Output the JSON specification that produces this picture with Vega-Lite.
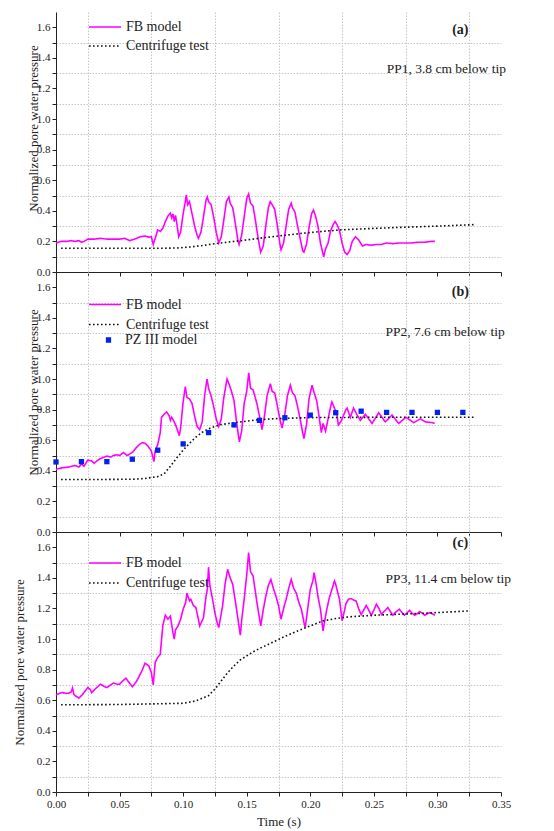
{
"$schema": "https://vega.github.io/schema/vega-lite/v6.json",
"padding": {"left": 13, "top": 12, "right": 5, "bottom": 2},
"bounds": "flush",
"spacing": 0,
"config": {
  "font": "Liberation Serif, serif",
  "view": {"stroke": null},
  "axis": {"labelFontSize": 11, "titleFontSize": 13, "titleFontWeight": "normal", "labelColor": "#222", "titleColor": "#222", "domainColor": "#222", "tickColor": "#222", "tickSize": 4, "labelPadding": 2, "gridDash": [1.5, 1.5], "gridWidth": 1},
  "legend": {"labelFontSize": 14, "labelColor": "#222", "padding": 0}
},
"datasets": {
  "a_lines": [
    {"t":0.000,"p":0.19,"s":"FB model"},{"t":0.004,"p":0.20,"s":"FB model"},{"t":0.008,"p":0.20,"s":"FB model"},{"t":0.012,"p":0.205,"s":"FB model"},{"t":0.015,"p":0.20,"s":"FB model"},{"t":0.018,"p":0.205,"s":"FB model"},{"t":0.020,"p":0.195,"s":"FB model"},{"t":0.022,"p":0.20,"s":"FB model"},{"t":0.025,"p":0.215,"s":"FB model"},{"t":0.030,"p":0.215,"s":"FB model"},{"t":0.035,"p":0.22,"s":"FB model"},{"t":0.040,"p":0.215,"s":"FB model"},{"t":0.045,"p":0.215,"s":"FB model"},{"t":0.050,"p":0.215,"s":"FB model"},{"t":0.054,"p":0.22,"s":"FB model"},{"t":0.058,"p":0.205,"s":"FB model"},{"t":0.062,"p":0.215,"s":"FB model"},{"t":0.066,"p":0.23,"s":"FB model"},{"t":0.070,"p":0.235,"s":"FB model"},{"t":0.073,"p":0.228,"s":"FB model"},{"t":0.075,"p":0.23,"s":"FB model"},{"t":0.0765,"p":0.18,"s":"FB model"},{"t":0.078,"p":0.22,"s":"FB model"},{"t":0.080,"p":0.275,"s":"FB model"},{"t":0.082,"p":0.265,"s":"FB model"},{"t":0.084,"p":0.285,"s":"FB model"},{"t":0.086,"p":0.33,"s":"FB model"},{"t":0.088,"p":0.365,"s":"FB model"},{"t":0.090,"p":0.385,"s":"FB model"},{"t":0.091,"p":0.355,"s":"FB model"},{"t":0.092,"p":0.38,"s":"FB model"},{"t":0.093,"p":0.33,"s":"FB model"},{"t":0.094,"p":0.37,"s":"FB model"},{"t":0.095,"p":0.32,"s":"FB model"},{"t":0.0965,"p":0.23,"s":"FB model"},{"t":0.098,"p":0.26,"s":"FB model"},{"t":0.100,"p":0.38,"s":"FB model"},{"t":0.1015,"p":0.45,"s":"FB model"},{"t":0.1025,"p":0.505,"s":"FB model"},{"t":0.1035,"p":0.44,"s":"FB model"},{"t":0.105,"p":0.46,"s":"FB model"},{"t":0.107,"p":0.38,"s":"FB model"},{"t":0.109,"p":0.30,"s":"FB model"},{"t":0.111,"p":0.24,"s":"FB model"},{"t":0.112,"p":0.22,"s":"FB model"},{"t":0.114,"p":0.26,"s":"FB model"},{"t":0.116,"p":0.36,"s":"FB model"},{"t":0.118,"p":0.47,"s":"FB model"},{"t":0.119,"p":0.49,"s":"FB model"},{"t":0.120,"p":0.46,"s":"FB model"},{"t":0.122,"p":0.44,"s":"FB model"},{"t":0.124,"p":0.36,"s":"FB model"},{"t":0.126,"p":0.26,"s":"FB model"},{"t":0.128,"p":0.19,"s":"FB model"},{"t":0.130,"p":0.23,"s":"FB model"},{"t":0.132,"p":0.34,"s":"FB model"},{"t":0.134,"p":0.46,"s":"FB model"},{"t":0.136,"p":0.49,"s":"FB model"},{"t":0.137,"p":0.45,"s":"FB model"},{"t":0.139,"p":0.42,"s":"FB model"},{"t":0.141,"p":0.32,"s":"FB model"},{"t":0.143,"p":0.21,"s":"FB model"},{"t":0.144,"p":0.18,"s":"FB model"},{"t":0.146,"p":0.24,"s":"FB model"},{"t":0.148,"p":0.36,"s":"FB model"},{"t":0.150,"p":0.48,"s":"FB model"},{"t":0.1515,"p":0.51,"s":"FB model"},{"t":0.153,"p":0.45,"s":"FB model"},{"t":0.155,"p":0.43,"s":"FB model"},{"t":0.157,"p":0.33,"s":"FB model"},{"t":0.159,"p":0.22,"s":"FB model"},{"t":0.161,"p":0.13,"s":"FB model"},{"t":0.163,"p":0.17,"s":"FB model"},{"t":0.165,"p":0.30,"s":"FB model"},{"t":0.167,"p":0.42,"s":"FB model"},{"t":0.1685,"p":0.46,"s":"FB model"},{"t":0.170,"p":0.44,"s":"FB model"},{"t":0.172,"p":0.41,"s":"FB model"},{"t":0.174,"p":0.31,"s":"FB model"},{"t":0.176,"p":0.19,"s":"FB model"},{"t":0.177,"p":0.145,"s":"FB model"},{"t":0.179,"p":0.19,"s":"FB model"},{"t":0.181,"p":0.30,"s":"FB model"},{"t":0.183,"p":0.41,"s":"FB model"},{"t":0.185,"p":0.45,"s":"FB model"},{"t":0.186,"p":0.42,"s":"FB model"},{"t":0.188,"p":0.39,"s":"FB model"},{"t":0.190,"p":0.30,"s":"FB model"},{"t":0.192,"p":0.22,"s":"FB model"},{"t":0.194,"p":0.14,"s":"FB model"},{"t":0.195,"p":0.13,"s":"FB model"},{"t":0.197,"p":0.18,"s":"FB model"},{"t":0.199,"p":0.29,"s":"FB model"},{"t":0.201,"p":0.38,"s":"FB model"},{"t":0.2025,"p":0.405,"s":"FB model"},{"t":0.204,"p":0.37,"s":"FB model"},{"t":0.206,"p":0.30,"s":"FB model"},{"t":0.208,"p":0.19,"s":"FB model"},{"t":0.2105,"p":0.10,"s":"FB model"},{"t":0.212,"p":0.15,"s":"FB model"},{"t":0.214,"p":0.19,"s":"FB model"},{"t":0.216,"p":0.27,"s":"FB model"},{"t":0.218,"p":0.31,"s":"FB model"},{"t":0.2195,"p":0.33,"s":"FB model"},{"t":0.221,"p":0.31,"s":"FB model"},{"t":0.223,"p":0.27,"s":"FB model"},{"t":0.225,"p":0.19,"s":"FB model"},{"t":0.227,"p":0.13,"s":"FB model"},{"t":0.229,"p":0.115,"s":"FB model"},{"t":0.231,"p":0.14,"s":"FB model"},{"t":0.233,"p":0.20,"s":"FB model"},{"t":0.2355,"p":0.23,"s":"FB model"},{"t":0.238,"p":0.21,"s":"FB model"},{"t":0.241,"p":0.17,"s":"FB model"},{"t":0.244,"p":0.18,"s":"FB model"},{"t":0.248,"p":0.175,"s":"FB model"},{"t":0.252,"p":0.18,"s":"FB model"},{"t":0.256,"p":0.18,"s":"FB model"},{"t":0.260,"p":0.19,"s":"FB model"},{"t":0.265,"p":0.185,"s":"FB model"},{"t":0.270,"p":0.19,"s":"FB model"},{"t":0.275,"p":0.19,"s":"FB model"},{"t":0.280,"p":0.19,"s":"FB model"},{"t":0.285,"p":0.195,"s":"FB model"},{"t":0.290,"p":0.195,"s":"FB model"},{"t":0.295,"p":0.20,"s":"FB model"},{"t":0.298,"p":0.20,"s":"FB model"},
    {"t":0.004,"p":0.155,"s":"Centrifuge test"},{"t":0.04,"p":0.155,"s":"Centrifuge test"},{"t":0.08,"p":0.155,"s":"Centrifuge test"},{"t":0.095,"p":0.157,"s":"Centrifuge test"},{"t":0.105,"p":0.163,"s":"Centrifuge test"},{"t":0.115,"p":0.173,"s":"Centrifuge test"},{"t":0.125,"p":0.185,"s":"Centrifuge test"},{"t":0.137,"p":0.197,"s":"Centrifuge test"},{"t":0.15,"p":0.21,"s":"Centrifuge test"},{"t":0.165,"p":0.226,"s":"Centrifuge test"},{"t":0.18,"p":0.24,"s":"Centrifuge test"},{"t":0.195,"p":0.254,"s":"Centrifuge test"},{"t":0.21,"p":0.266,"s":"Centrifuge test"},{"t":0.225,"p":0.276,"s":"Centrifuge test"},{"t":0.25,"p":0.285,"s":"Centrifuge test"},{"t":0.275,"p":0.293,"s":"Centrifuge test"},{"t":0.3,"p":0.30,"s":"Centrifuge test"},{"t":0.33,"p":0.31,"s":"Centrifuge test"}
  ],
  "b_lines": [
    {"t":0.000,"p":0.41,"s":"FB model"},{"t":0.005,"p":0.42,"s":"FB model"},{"t":0.010,"p":0.425,"s":"FB model"},{"t":0.015,"p":0.435,"s":"FB model"},{"t":0.018,"p":0.425,"s":"FB model"},{"t":0.020,"p":0.445,"s":"FB model"},{"t":0.022,"p":0.43,"s":"FB model"},{"t":0.025,"p":0.47,"s":"FB model"},{"t":0.028,"p":0.465,"s":"FB model"},{"t":0.030,"p":0.45,"s":"FB model"},{"t":0.033,"p":0.47,"s":"FB model"},{"t":0.035,"p":0.48,"s":"FB model"},{"t":0.038,"p":0.49,"s":"FB model"},{"t":0.040,"p":0.496,"s":"FB model"},{"t":0.043,"p":0.49,"s":"FB model"},{"t":0.045,"p":0.50,"s":"FB model"},{"t":0.048,"p":0.505,"s":"FB model"},{"t":0.050,"p":0.50,"s":"FB model"},{"t":0.053,"p":0.52,"s":"FB model"},{"t":0.056,"p":0.50,"s":"FB model"},{"t":0.060,"p":0.52,"s":"FB model"},{"t":0.063,"p":0.55,"s":"FB model"},{"t":0.066,"p":0.575,"s":"FB model"},{"t":0.068,"p":0.585,"s":"FB model"},{"t":0.070,"p":0.58,"s":"FB model"},{"t":0.072,"p":0.565,"s":"FB model"},{"t":0.075,"p":0.53,"s":"FB model"},{"t":0.077,"p":0.46,"s":"FB model"},{"t":0.078,"p":0.53,"s":"FB model"},{"t":0.080,"p":0.57,"s":"FB model"},{"t":0.082,"p":0.65,"s":"FB model"},{"t":0.083,"p":0.75,"s":"FB model"},{"t":0.085,"p":0.77,"s":"FB model"},{"t":0.087,"p":0.785,"s":"FB model"},{"t":0.089,"p":0.76,"s":"FB model"},{"t":0.090,"p":0.73,"s":"FB model"},{"t":0.091,"p":0.75,"s":"FB model"},{"t":0.093,"p":0.72,"s":"FB model"},{"t":0.095,"p":0.68,"s":"FB model"},{"t":0.097,"p":0.63,"s":"FB model"},{"t":0.098,"p":0.68,"s":"FB model"},{"t":0.100,"p":0.85,"s":"FB model"},{"t":0.1017,"p":0.95,"s":"FB model"},{"t":0.103,"p":0.88,"s":"FB model"},{"t":0.105,"p":0.87,"s":"FB model"},{"t":0.107,"p":0.84,"s":"FB model"},{"t":0.109,"p":0.76,"s":"FB model"},{"t":0.111,"p":0.69,"s":"FB model"},{"t":0.113,"p":0.67,"s":"FB model"},{"t":0.115,"p":0.72,"s":"FB model"},{"t":0.117,"p":0.90,"s":"FB model"},{"t":0.1188,"p":1.00,"s":"FB model"},{"t":0.120,"p":0.94,"s":"FB model"},{"t":0.122,"p":0.89,"s":"FB model"},{"t":0.124,"p":0.82,"s":"FB model"},{"t":0.126,"p":0.74,"s":"FB model"},{"t":0.128,"p":0.69,"s":"FB model"},{"t":0.130,"p":0.74,"s":"FB model"},{"t":0.132,"p":0.88,"s":"FB model"},{"t":0.1345,"p":1.00,"s":"FB model"},{"t":0.136,"p":0.97,"s":"FB model"},{"t":0.138,"p":0.92,"s":"FB model"},{"t":0.140,"p":0.86,"s":"FB model"},{"t":0.142,"p":0.72,"s":"FB model"},{"t":0.1442,"p":0.59,"s":"FB model"},{"t":0.146,"p":0.66,"s":"FB model"},{"t":0.148,"p":0.84,"s":"FB model"},{"t":0.150,"p":0.92,"s":"FB model"},{"t":0.1516,"p":1.04,"s":"FB model"},{"t":0.153,"p":0.94,"s":"FB model"},{"t":0.155,"p":0.93,"s":"FB model"},{"t":0.158,"p":0.84,"s":"FB model"},{"t":0.160,"p":0.76,"s":"FB model"},{"t":0.162,"p":0.67,"s":"FB model"},{"t":0.164,"p":0.76,"s":"FB model"},{"t":0.166,"p":0.89,"s":"FB model"},{"t":0.1686,"p":0.97,"s":"FB model"},{"t":0.170,"p":0.92,"s":"FB model"},{"t":0.172,"p":0.91,"s":"FB model"},{"t":0.174,"p":0.83,"s":"FB model"},{"t":0.176,"p":0.74,"s":"FB model"},{"t":0.1778,"p":0.68,"s":"FB model"},{"t":0.180,"p":0.77,"s":"FB model"},{"t":0.182,"p":0.89,"s":"FB model"},{"t":0.1843,"p":0.96,"s":"FB model"},{"t":0.186,"p":0.91,"s":"FB model"},{"t":0.188,"p":0.89,"s":"FB model"},{"t":0.190,"p":0.82,"s":"FB model"},{"t":0.192,"p":0.74,"s":"FB model"},{"t":0.194,"p":0.65,"s":"FB model"},{"t":0.195,"p":0.61,"s":"FB model"},{"t":0.197,"p":0.70,"s":"FB model"},{"t":0.199,"p":0.87,"s":"FB model"},{"t":0.2014,"p":0.96,"s":"FB model"},{"t":0.203,"p":0.91,"s":"FB model"},{"t":0.205,"p":0.86,"s":"FB model"},{"t":0.207,"p":0.75,"s":"FB model"},{"t":0.2087,"p":0.65,"s":"FB model"},{"t":0.210,"p":0.71,"s":"FB model"},{"t":0.212,"p":0.66,"s":"FB model"},{"t":0.214,"p":0.74,"s":"FB model"},{"t":0.216,"p":0.82,"s":"FB model"},{"t":0.217,"p":0.85,"s":"FB model"},{"t":0.219,"p":0.81,"s":"FB model"},{"t":0.221,"p":0.77,"s":"FB model"},{"t":0.222,"p":0.70,"s":"FB model"},{"t":0.224,"p":0.72,"s":"FB model"},{"t":0.226,"p":0.76,"s":"FB model"},{"t":0.228,"p":0.80,"s":"FB model"},{"t":0.229,"p":0.81,"s":"FB model"},{"t":0.2315,"p":0.75,"s":"FB model"},{"t":0.234,"p":0.81,"s":"FB model"},{"t":0.2365,"p":0.77,"s":"FB model"},{"t":0.2394,"p":0.73,"s":"FB model"},{"t":0.2433,"p":0.77,"s":"FB model"},{"t":0.2486,"p":0.71,"s":"FB model"},{"t":0.2538,"p":0.78,"s":"FB model"},{"t":0.259,"p":0.72,"s":"FB model"},{"t":0.2643,"p":0.765,"s":"FB model"},{"t":0.2695,"p":0.71,"s":"FB model"},{"t":0.2753,"p":0.75,"s":"FB model"},{"t":0.2813,"p":0.715,"s":"FB model"},{"t":0.2866,"p":0.74,"s":"FB model"},{"t":0.2905,"p":0.72,"s":"FB model"},{"t":0.2957,"p":0.715,"s":"FB model"},{"t":0.2978,"p":0.71,"s":"FB model"},
    {"t":0.004,"p":0.343,"s":"Centrifuge test"},{"t":0.03,"p":0.343,"s":"Centrifuge test"},{"t":0.06,"p":0.345,"s":"Centrifuge test"},{"t":0.07,"p":0.35,"s":"Centrifuge test"},{"t":0.08,"p":0.362,"s":"Centrifuge test"},{"t":0.085,"p":0.38,"s":"Centrifuge test"},{"t":0.09,"p":0.43,"s":"Centrifuge test"},{"t":0.095,"p":0.485,"s":"Centrifuge test"},{"t":0.1,"p":0.535,"s":"Centrifuge test"},{"t":0.105,"p":0.58,"s":"Centrifuge test"},{"t":0.11,"p":0.62,"s":"Centrifuge test"},{"t":0.115,"p":0.652,"s":"Centrifuge test"},{"t":0.12,"p":0.675,"s":"Centrifuge test"},{"t":0.125,"p":0.69,"s":"Centrifuge test"},{"t":0.13,"p":0.703,"s":"Centrifuge test"},{"t":0.14,"p":0.714,"s":"Centrifuge test"},{"t":0.15,"p":0.725,"s":"Centrifuge test"},{"t":0.16,"p":0.735,"s":"Centrifuge test"},{"t":0.175,"p":0.742,"s":"Centrifuge test"},{"t":0.2,"p":0.748,"s":"Centrifuge test"},{"t":0.25,"p":0.75,"s":"Centrifuge test"},{"t":0.3,"p":0.75,"s":"Centrifuge test"},{"t":0.33,"p":0.75,"s":"Centrifuge test"}
  ],
  "b_pz": [
    {"t":0.00,"p":0.458,"s":"PZ III model"},{"t":0.02,"p":0.46,"s":"PZ III model"},{"t":0.04,"p":0.46,"s":"PZ III model"},{"t":0.06,"p":0.476,"s":"PZ III model"},{"t":0.08,"p":0.535,"s":"PZ III model"},{"t":0.10,"p":0.576,"s":"PZ III model"},{"t":0.12,"p":0.65,"s":"PZ III model"},{"t":0.14,"p":0.70,"s":"PZ III model"},{"t":0.16,"p":0.73,"s":"PZ III model"},{"t":0.18,"p":0.747,"s":"PZ III model"},{"t":0.20,"p":0.764,"s":"PZ III model"},{"t":0.22,"p":0.78,"s":"PZ III model"},{"t":0.24,"p":0.79,"s":"PZ III model"},{"t":0.26,"p":0.782,"s":"PZ III model"},{"t":0.28,"p":0.782,"s":"PZ III model"},{"t":0.30,"p":0.782,"s":"PZ III model"},{"t":0.32,"p":0.782,"s":"PZ III model"}
  ],
  "c_lines": [
    {"t":0.000,"p":0.636,"s":"FB model"},{"t":0.003,"p":0.645,"s":"FB model"},{"t":0.005,"p":0.65,"s":"FB model"},{"t":0.008,"p":0.645,"s":"FB model"},{"t":0.010,"p":0.646,"s":"FB model"},{"t":0.012,"p":0.655,"s":"FB model"},{"t":0.013,"p":0.68,"s":"FB model"},{"t":0.014,"p":0.64,"s":"FB model"},{"t":0.015,"p":0.63,"s":"FB model"},{"t":0.017,"p":0.62,"s":"FB model"},{"t":0.018,"p":0.614,"s":"FB model"},{"t":0.020,"p":0.63,"s":"FB model"},{"t":0.022,"p":0.65,"s":"FB model"},{"t":0.025,"p":0.683,"s":"FB model"},{"t":0.027,"p":0.67,"s":"FB model"},{"t":0.028,"p":0.65,"s":"FB model"},{"t":0.031,"p":0.675,"s":"FB model"},{"t":0.035,"p":0.705,"s":"FB model"},{"t":0.038,"p":0.69,"s":"FB model"},{"t":0.040,"p":0.683,"s":"FB model"},{"t":0.043,"p":0.70,"s":"FB model"},{"t":0.045,"p":0.712,"s":"FB model"},{"t":0.048,"p":0.705,"s":"FB model"},{"t":0.050,"p":0.705,"s":"FB model"},{"t":0.053,"p":0.73,"s":"FB model"},{"t":0.055,"p":0.744,"s":"FB model"},{"t":0.058,"p":0.71,"s":"FB model"},{"t":0.060,"p":0.688,"s":"FB model"},{"t":0.063,"p":0.72,"s":"FB model"},{"t":0.065,"p":0.749,"s":"FB model"},{"t":0.068,"p":0.80,"s":"FB model"},{"t":0.070,"p":0.842,"s":"FB model"},{"t":0.073,"p":0.825,"s":"FB model"},{"t":0.075,"p":0.78,"s":"FB model"},{"t":0.0765,"p":0.70,"s":"FB model"},{"t":0.078,"p":0.847,"s":"FB model"},{"t":0.080,"p":0.88,"s":"FB model"},{"t":0.082,"p":0.90,"s":"FB model"},{"t":0.084,"p":1.086,"s":"FB model"},{"t":0.086,"p":1.156,"s":"FB model"},{"t":0.088,"p":1.13,"s":"FB model"},{"t":0.090,"p":1.15,"s":"FB model"},{"t":0.092,"p":1.04,"s":"FB model"},{"t":0.093,"p":1.00,"s":"FB model"},{"t":0.094,"p":1.06,"s":"FB model"},{"t":0.096,"p":1.086,"s":"FB model"},{"t":0.098,"p":1.13,"s":"FB model"},{"t":0.100,"p":1.195,"s":"FB model"},{"t":0.102,"p":1.24,"s":"FB model"},{"t":0.103,"p":1.30,"s":"FB model"},{"t":0.105,"p":1.25,"s":"FB model"},{"t":0.106,"p":1.26,"s":"FB model"},{"t":0.108,"p":1.22,"s":"FB model"},{"t":0.110,"p":1.206,"s":"FB model"},{"t":0.112,"p":1.13,"s":"FB model"},{"t":0.113,"p":1.086,"s":"FB model"},{"t":0.115,"p":1.12,"s":"FB model"},{"t":0.116,"p":1.14,"s":"FB model"},{"t":0.118,"p":1.28,"s":"FB model"},{"t":0.119,"p":1.325,"s":"FB model"},{"t":0.120,"p":1.47,"s":"FB model"},{"t":0.121,"p":1.35,"s":"FB model"},{"t":0.122,"p":1.31,"s":"FB model"},{"t":0.124,"p":1.22,"s":"FB model"},{"t":0.125,"p":1.17,"s":"FB model"},{"t":0.127,"p":1.10,"s":"FB model"},{"t":0.128,"p":1.075,"s":"FB model"},{"t":0.129,"p":1.12,"s":"FB model"},{"t":0.131,"p":1.216,"s":"FB model"},{"t":0.133,"p":1.36,"s":"FB model"},{"t":0.135,"p":1.456,"s":"FB model"},{"t":0.137,"p":1.40,"s":"FB model"},{"t":0.139,"p":1.358,"s":"FB model"},{"t":0.141,"p":1.25,"s":"FB model"},{"t":0.142,"p":1.195,"s":"FB model"},{"t":0.144,"p":1.08,"s":"FB model"},{"t":0.145,"p":1.025,"s":"FB model"},{"t":0.146,"p":1.12,"s":"FB model"},{"t":0.148,"p":1.26,"s":"FB model"},{"t":0.150,"p":1.42,"s":"FB model"},{"t":0.1515,"p":1.565,"s":"FB model"},{"t":0.153,"p":1.44,"s":"FB model"},{"t":0.155,"p":1.413,"s":"FB model"},{"t":0.157,"p":1.30,"s":"FB model"},{"t":0.158,"p":1.24,"s":"FB model"},{"t":0.160,"p":1.14,"s":"FB model"},{"t":0.161,"p":1.086,"s":"FB model"},{"t":0.163,"p":1.19,"s":"FB model"},{"t":0.165,"p":1.28,"s":"FB model"},{"t":0.167,"p":1.35,"s":"FB model"},{"t":0.169,"p":1.39,"s":"FB model"},{"t":0.171,"p":1.33,"s":"FB model"},{"t":0.173,"p":1.28,"s":"FB model"},{"t":0.175,"p":1.22,"s":"FB model"},{"t":0.177,"p":1.13,"s":"FB model"},{"t":0.179,"p":1.20,"s":"FB model"},{"t":0.181,"p":1.26,"s":"FB model"},{"t":0.183,"p":1.33,"s":"FB model"},{"t":0.185,"p":1.39,"s":"FB model"},{"t":0.187,"p":1.33,"s":"FB model"},{"t":0.189,"p":1.30,"s":"FB model"},{"t":0.191,"p":1.24,"s":"FB model"},{"t":0.193,"p":1.195,"s":"FB model"},{"t":0.195,"p":1.11,"s":"FB model"},{"t":0.196,"p":1.075,"s":"FB model"},{"t":0.198,"p":1.20,"s":"FB model"},{"t":0.200,"p":1.325,"s":"FB model"},{"t":0.202,"p":1.38,"s":"FB model"},{"t":0.203,"p":1.435,"s":"FB model"},{"t":0.205,"p":1.34,"s":"FB model"},{"t":0.206,"p":1.28,"s":"FB model"},{"t":0.208,"p":1.195,"s":"FB model"},{"t":0.210,"p":1.053,"s":"FB model"},{"t":0.212,"p":1.15,"s":"FB model"},{"t":0.213,"p":1.195,"s":"FB model"},{"t":0.215,"p":1.27,"s":"FB model"},{"t":0.217,"p":1.325,"s":"FB model"},{"t":0.219,"p":1.38,"s":"FB model"},{"t":0.220,"p":1.358,"s":"FB model"},{"t":0.222,"p":1.29,"s":"FB model"},{"t":0.223,"p":1.26,"s":"FB model"},{"t":0.225,"p":1.12,"s":"FB model"},{"t":0.227,"p":1.19,"s":"FB model"},{"t":0.228,"p":1.23,"s":"FB model"},{"t":0.230,"p":1.26,"s":"FB model"},{"t":0.232,"p":1.265,"s":"FB model"},{"t":0.234,"p":1.255,"s":"FB model"},{"t":0.236,"p":1.25,"s":"FB model"},{"t":0.238,"p":1.20,"s":"FB model"},{"t":0.240,"p":1.16,"s":"FB model"},{"t":0.242,"p":1.19,"s":"FB model"},{"t":0.244,"p":1.22,"s":"FB model"},{"t":0.246,"p":1.19,"s":"FB model"},{"t":0.248,"p":1.155,"s":"FB model"},{"t":0.250,"p":1.19,"s":"FB model"},{"t":0.252,"p":1.228,"s":"FB model"},{"t":0.254,"p":1.20,"s":"FB model"},{"t":0.256,"p":1.16,"s":"FB model"},{"t":0.258,"p":1.18,"s":"FB model"},{"t":0.261,"p":1.206,"s":"FB model"},{"t":0.263,"p":1.18,"s":"FB model"},{"t":0.265,"p":1.156,"s":"FB model"},{"t":0.267,"p":1.175,"s":"FB model"},{"t":0.270,"p":1.195,"s":"FB model"},{"t":0.272,"p":1.175,"s":"FB model"},{"t":0.274,"p":1.156,"s":"FB model"},{"t":0.276,"p":1.17,"s":"FB model"},{"t":0.278,"p":1.188,"s":"FB model"},{"t":0.280,"p":1.17,"s":"FB model"},{"t":0.282,"p":1.156,"s":"FB model"},{"t":0.284,"p":1.165,"s":"FB model"},{"t":0.286,"p":1.18,"s":"FB model"},{"t":0.288,"p":1.17,"s":"FB model"},{"t":0.290,"p":1.156,"s":"FB model"},{"t":0.292,"p":1.165,"s":"FB model"},{"t":0.294,"p":1.173,"s":"FB model"},{"t":0.296,"p":1.165,"s":"FB model"},{"t":0.298,"p":1.156,"s":"FB model"},
    {"t":0.004,"p":0.57,"s":"Centrifuge test"},{"t":0.05,"p":0.572,"s":"Centrifuge test"},{"t":0.1,"p":0.58,"s":"Centrifuge test"},{"t":0.11,"p":0.596,"s":"Centrifuge test"},{"t":0.12,"p":0.63,"s":"Centrifuge test"},{"t":0.125,"p":0.673,"s":"Centrifuge test"},{"t":0.13,"p":0.727,"s":"Centrifuge test"},{"t":0.135,"p":0.78,"s":"Centrifuge test"},{"t":0.14,"p":0.825,"s":"Centrifuge test"},{"t":0.145,"p":0.864,"s":"Centrifuge test"},{"t":0.15,"p":0.89,"s":"Centrifuge test"},{"t":0.155,"p":0.916,"s":"Centrifuge test"},{"t":0.16,"p":0.938,"s":"Centrifuge test"},{"t":0.17,"p":0.977,"s":"Centrifuge test"},{"t":0.18,"p":1.017,"s":"Centrifuge test"},{"t":0.19,"p":1.053,"s":"Centrifuge test"},{"t":0.2,"p":1.086,"s":"Centrifuge test"},{"t":0.21,"p":1.119,"s":"Centrifuge test"},{"t":0.22,"p":1.134,"s":"Centrifuge test"},{"t":0.23,"p":1.145,"s":"Centrifuge test"},{"t":0.25,"p":1.156,"s":"Centrifuge test"},{"t":0.27,"p":1.162,"s":"Centrifuge test"},{"t":0.3,"p":1.173,"s":"Centrifuge test"},{"t":0.325,"p":1.184,"s":"Centrifuge test"}
  ],
  "a_note": [{"t":0.307,"p":1.326,"label":"PP1, 3.8 cm below tip"}],
  "a_tag": [{"t":0.318,"p":1.58,"label":"(a)"}],
  "b_note": [{"t":0.306,"p":1.309,"label":"PP2, 7.6 cm below tip"}],
  "b_tag": [{"t":0.318,"p":1.57,"label":"(b)"}],
  "c_note": [{"t":0.3086,"p":1.39,"label":"PP3, 11.4 cm below tip"}],
  "c_tag": [{"t":0.318,"p":1.626,"label":"(c)"}]
},
"vconcat": [
  {
    "width": 445, "height": 260,
    "encoding": {
      "x": {"field": "t", "type": "quantitative", "scale": {"domain": [0, 0.35], "nice": false}, "axis": {"title": null, "values": [0,0.025,0.05,0.075,0.1,0.125,0.15,0.175,0.2,0.225,0.25,0.275,0.3,0.325,0.35], "labels": false, "grid": true, "gridColor": {"condition": {"test": "round(datum.value*40)%2==0", "value": "transparent"}, "value": "#c6c6c6"}}},
      "y": {"field": "p", "type": "quantitative", "scale": {"domain": [0, 1.7], "nice": false}, "axis": {"title": "Normalized pore water pressure", "titleX": -16, "titleY": 116, "labelOverlap": false, "values": [0,0.1,0.2,0.3,0.4,0.5,0.6,0.7,0.8,0.9,1,1.1,1.2,1.3,1.4,1.5,1.6], "labelExpr": "round(datum.value*10)%2==0 ? format(datum.value,'.1f') : ''", "grid": true, "gridColor": {"condition": {"test": "round(datum.value*10)%2==0", "value": "transparent"}, "value": "#c6c6c6"}}}
    },
    "layer": [
      {"data": {"name": "a_lines"}, "mark": {"type": "line", "strokeWidth": 1.6},
       "encoding": {
         "color": {"field": "s", "type": "nominal", "scale": {"domain": ["FB model", "Centrifuge test"], "range": ["#ff00ff", "#111111"]}, "legend": {"title": null, "orient": "none", "legendX": 32, "legendY": 6.5, "symbolSize": 1024, "symbolType": "stroke", "symbolStrokeWidth": 1.6, "clipHeight": 17, "labelOffset": 4}},
         "strokeDash": {"field": "s", "type": "nominal", "scale": {"domain": ["FB model", "Centrifuge test"], "range": [[1, 0], [1.6, 2.4]]}, "legend": {"title": null, "orient": "none", "legendX": 32, "legendY": 6.5, "symbolSize": 1024, "symbolType": "stroke", "symbolStrokeWidth": 1.6, "clipHeight": 17, "labelOffset": 4}},
         "order": {"field": "t", "type": "quantitative"}
       }},
      {"data": {"name": "a_note"}, "mark": {"type": "text", "fontSize": 13.5, "color": "#222"}, "encoding": {"text": {"field": "label"}}},
      {"data": {"name": "a_tag"}, "mark": {"type": "text", "fontSize": 14, "fontWeight": "bold", "color": "#222"}, "encoding": {"text": {"field": "label"}}}
    ]
  },
  {
    "width": 445, "height": 260,
    "encoding": {
      "x": {"field": "t", "type": "quantitative", "scale": {"domain": [0, 0.35], "nice": false}, "axis": {"title": null, "values": [0,0.025,0.05,0.075,0.1,0.125,0.15,0.175,0.2,0.225,0.25,0.275,0.3,0.325,0.35], "labels": false, "grid": true, "gridColor": {"condition": {"test": "round(datum.value*40)%2==0", "value": "transparent"}, "value": "#c6c6c6"}}},
      "y": {"field": "p", "type": "quantitative", "scale": {"domain": [0, 1.7], "nice": false}, "axis": {"title": "Normalized pore water pressure", "titleX": -16, "titleY": 120, "labelOverlap": false, "values": [0,0.1,0.2,0.3,0.4,0.5,0.6,0.7,0.8,0.9,1,1.1,1.2,1.3,1.4,1.5,1.6], "labelExpr": "round(datum.value*10)%2==0 ? format(datum.value,'.1f') : ''", "grid": true, "gridColor": {"condition": {"test": "round(datum.value*10)%2==0", "value": "transparent"}, "value": "#c6c6c6"}}}
    },
    "layer": [
      {"data": {"name": "b_lines"}, "mark": {"type": "line", "strokeWidth": 1.6},
       "encoding": {
         "color": {"field": "s", "type": "nominal", "scale": {"domain": ["FB model", "Centrifuge test"], "range": ["#ff00ff", "#111111"]}, "legend": {"title": null, "orient": "none", "legendX": 32, "legendY": 23.5, "symbolSize": 1024, "symbolType": "stroke", "symbolStrokeWidth": 1.6, "clipHeight": 18, "labelOffset": 4}},
         "strokeDash": {"field": "s", "type": "nominal", "scale": {"domain": ["FB model", "Centrifuge test"], "range": [[1, 0], [1.6, 2.4]]}, "legend": {"title": null, "orient": "none", "legendX": 32, "legendY": 23.5, "symbolSize": 1024, "symbolType": "stroke", "symbolStrokeWidth": 1.6, "clipHeight": 18, "labelOffset": 4}},
         "order": {"field": "t", "type": "quantitative"}
       }},
      {"data": {"name": "b_pz"}, "mark": {"type": "point", "shape": "square", "filled": true, "size": 28, "opacity": 1},
       "encoding": {
         "fill": {"field": "s", "type": "nominal", "scale": {"domain": ["PZ III model"], "range": ["#0022ee"]}, "legend": {"title": null, "orient": "none", "legendX": 45.5, "legendY": 59, "symbolType": "square", "symbolSize": 28, "clipHeight": 18, "labelOffset": 9.5}}
       }},
      {"data": {"name": "b_note"}, "mark": {"type": "text", "fontSize": 13.5, "color": "#222"}, "encoding": {"text": {"field": "label"}}},
      {"data": {"name": "b_tag"}, "mark": {"type": "text", "fontSize": 14, "fontWeight": "bold", "color": "#222"}, "encoding": {"text": {"field": "label"}}}
    ]
  },
  {
    "width": 445, "height": 260,
    "encoding": {
      "x": {"field": "t", "type": "quantitative", "scale": {"domain": [0, 0.35], "nice": false}, "axis": {"title": "Time (s)", "titlePadding": 6, "labelOverlap": false, "values": [0,0.025,0.05,0.075,0.1,0.125,0.15,0.175,0.2,0.225,0.25,0.275,0.3,0.325,0.35], "labelExpr": "round(datum.value*40)%2==0 ? format(datum.value,'.2f') : ''", "labelFlush": false, "grid": true, "gridColor": {"condition": {"test": "round(datum.value*40)%2==0", "value": "transparent"}, "value": "#c6c6c6"}}},
      "y": {"field": "p", "type": "quantitative", "scale": {"domain": [0, 1.7], "nice": false}, "axis": {"title": "Normalized pore water pressure", "titlePadding": 10, "labelOverlap": false, "values": [0,0.1,0.2,0.3,0.4,0.5,0.6,0.7,0.8,0.9,1,1.1,1.2,1.3,1.4,1.5,1.6], "labelExpr": "round(datum.value*10)%2==0 ? format(datum.value,'.1f') : ''", "grid": true, "gridColor": {"condition": {"test": "round(datum.value*10)%2==0", "value": "transparent"}, "value": "#c6c6c6"}}}
    },
    "layer": [
      {"data": {"name": "c_lines"}, "mark": {"type": "line", "strokeWidth": 1.6},
       "encoding": {
         "color": {"field": "s", "type": "nominal", "scale": {"domain": ["FB model", "Centrifuge test"], "range": ["#ff00ff", "#111111"]}, "legend": {"title": null, "orient": "none", "legendX": 32, "legendY": 22, "symbolSize": 1024, "symbolType": "stroke", "symbolStrokeWidth": 1.6, "clipHeight": 18, "labelOffset": 4}},
         "strokeDash": {"field": "s", "type": "nominal", "scale": {"domain": ["FB model", "Centrifuge test"], "range": [[1, 0], [1.6, 2.4]]}, "legend": {"title": null, "orient": "none", "legendX": 32, "legendY": 22, "symbolSize": 1024, "symbolType": "stroke", "symbolStrokeWidth": 1.6, "clipHeight": 18, "labelOffset": 4}},
         "order": {"field": "t", "type": "quantitative"}
       }},
      {"data": {"name": "c_note"}, "mark": {"type": "text", "fontSize": 13.5, "color": "#222"}, "encoding": {"text": {"field": "label"}}},
      {"data": {"name": "c_tag"}, "mark": {"type": "text", "fontSize": 14, "fontWeight": "bold", "color": "#222"}, "encoding": {"text": {"field": "label"}}}
    ]
  }
],
"resolve": {"scale": {"color": "independent", "strokeDash": "independent", "fill": "independent"}, "legend": {"color": "independent", "strokeDash": "independent", "fill": "independent"}}
}
